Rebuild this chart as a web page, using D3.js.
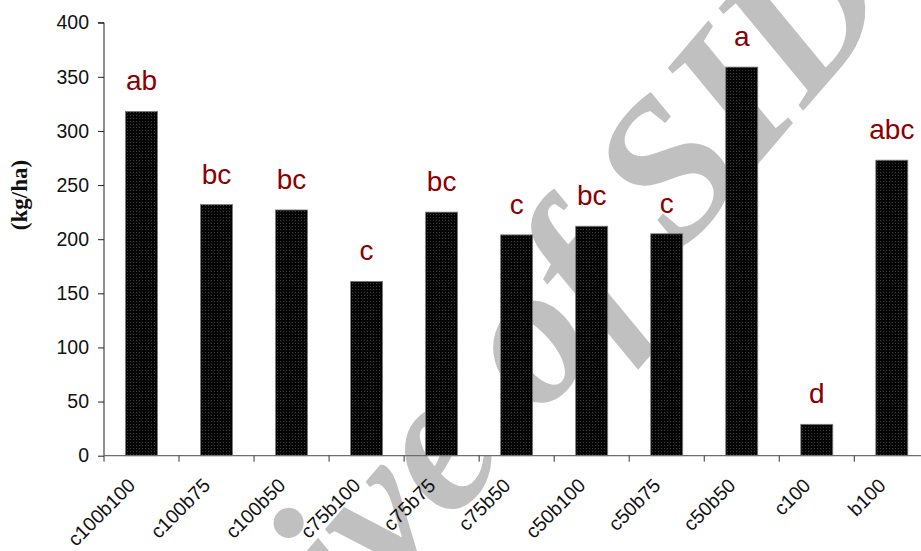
<!DOCTYPE html>
<html>
<head>
<meta charset="utf-8">
<script src="https://cdn.jsdelivr.net/npm/d3@7"></script>
<style>
  html, body { margin: 0; padding: 0; background: #fff; }
  svg { display: block; }
</style>
</head>
<body>
<svg id="chart" width="921" height="551"></svg>
<script>
// Treatments, yields (kg/ha) and significance groups
const categories = ["c100b100", "c100b75", "c100b50", "c75b100", "c75b75", "c75b50", "c50b100", "c50b75", "c50b50", "c100", "b100"];
const values = [318, 232, 227, 161, 225, 204, 212, 205, 359, 29, 273];
const groups = ["ab", "bc", "bc", "c", "bc", "c", "bc", "c", "a", "d", "abc"];
const yTicks = [0, 50, 100, 150, 200, 250, 300, 350, 400];
const yLabel = "(kg/ha)";
const watermark = "Archive of SID";

const svg = d3.select("#chart");
const W = 921, H = 551;

const left = 104, zeroY = 455.7, topY = 22.7, step = 75.03;

const y = d3.scaleLinear().domain([0, 400]).range([zeroY, topY]);
const x = d3.scaleBand().domain(categories)
  .range([left, left + step * categories.length]).padding(0);

// Dotted fill for the bars
const defs = svg.append("defs");
const pat = defs.append("pattern").attr("id", "dots")
  .attr("width", 3).attr("height", 3).attr("patternUnits", "userSpaceOnUse");
pat.append("rect").attr("width", 3).attr("height", 3).attr("fill", "#050505");
pat.append("rect").attr("x", 1).attr("y", 1).attr("width", 1).attr("height", 1).attr("fill", "#3c3c3c");

// Background watermark
svg.append("text")
  .attr("transform", "translate(494,473) rotate(-49.5)")
  .attr("text-anchor", "middle")
  .style("font-family", "'Liberation Serif','Times New Roman',serif")
  .style("font-weight", "bold")
  .style("font-style", "italic")
  .style("font-size", "200px")
  .attr("fill", "#c0c0c0")
  .text(watermark);

// Bars
const barW = 32;
svg.append("g").selectAll("rect").data(categories).join("rect")
  .attr("x", (d) => x(d) + x.bandwidth() / 2 - barW / 2)
  .attr("y", (d, i) => y(values[i]))
  .attr("width", barW)
  .attr("height", (d, i) => y(0) - y(values[i]))
  .attr("fill", "url(#dots)")
  .attr("stroke", "#7a7a7a")
  .attr("stroke-width", 0.8);

// Group letters above bars
svg.append("g").selectAll("text").data(categories).join("text")
  .attr("x", (d) => x(d) + x.bandwidth() / 2)
  .attr("y", (d, i) => y(values[i]) - 21)
  .attr("text-anchor", "middle")
  .style("font-family", "'Liberation Sans',Arial,sans-serif")
  .style("font-size", "28px")
  .attr("fill", "#8b0000")
  .text((d, i) => groups[i]);

// Y axis
const yAxis = d3.axisLeft(y).tickValues(yTicks).tickSize(6).tickPadding(9);
const gy = svg.append("g").attr("transform", `translate(${left},0)`).call(yAxis);
gy.select(".domain").attr("stroke", "#222").attr("d", `M-6,${topY}H0V${zeroY}`);
gy.selectAll(".tick line").attr("stroke", "#222");
gy.selectAll(".tick text")
  .style("font-family", "'Liberation Sans',Arial,sans-serif")
  .style("font-size", "19.5px")
  .attr("fill", "#111");

// X axis: line, ticks at category boundaries, rotated labels
const gx = svg.append("g");
gx.append("line")
  .attr("x1", left).attr("x2", W).attr("y1", zeroY).attr("y2", zeroY)
  .attr("stroke", "#6e6e6e").attr("stroke-width", 1.2);
gx.selectAll("line.tk").data(categories).join("line").attr("class", "tk")
  .attr("x1", (d) => x(d)).attr("x2", (d) => x(d))
  .attr("y1", zeroY).attr("y2", zeroY + 6)
  .attr("stroke", "#333");
gx.selectAll("text").data(categories).join("text")
  .attr("transform", (d) => `translate(${x(d) + x.bandwidth() / 2 - 5},${zeroY + 31}) rotate(-45)`)
  .attr("text-anchor", "end")
  .style("font-family", "'Liberation Sans',Arial,sans-serif")
  .style("font-size", "19.5px")
  .attr("fill", "#111")
  .text((d) => d);

// Y axis title
svg.append("text")
  .attr("transform", "translate(27,195) rotate(-90)")
  .attr("text-anchor", "middle")
  .style("font-family", "'Liberation Serif','Times New Roman',serif")
  .style("font-weight", "bold")
  .style("font-size", "23px")
  .attr("fill", "#111")
  .text(yLabel);
</script>
</body>
</html>
